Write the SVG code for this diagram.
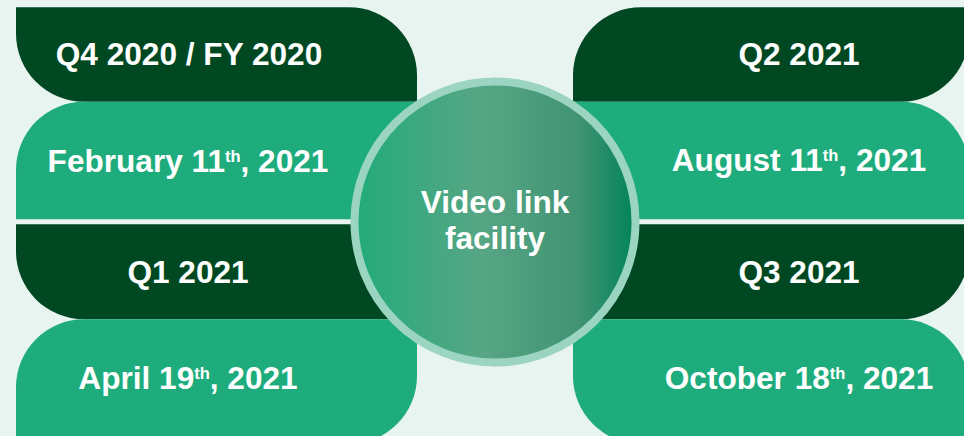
<svg xmlns="http://www.w3.org/2000/svg" width="964" height="436" viewBox="0 0 964 436">
  <defs>
    <linearGradient id="circGrad" x1="0" y1="0" x2="1" y2="0">
      <stop offset="0" stop-color="#22AB7A"/>
      <stop offset="0.45" stop-color="#57A685"/>
      <stop offset="0.8" stop-color="#409373"/>
      <stop offset="1" stop-color="#00845A"/>
    </linearGradient>
    <style>
      .dark { fill: #004822; }
      .light { fill: #1EAC7C; }
      .lbl { font-family: "Liberation Sans", Arial, Helvetica, sans-serif; font-weight: bold; font-size: 31.6px; fill: #FFFFFF; text-anchor: middle; }
      .sup { font-size: 16.5px; }
    </style>
  </defs>
  <rect x="0" y="0" width="964" height="436" fill="#E8F4F0"/>

  <g id="q4-2020">
    <path class="dark" d="M16,7.3 H349 A68,68 0 0 1 417,75.3 V101.7 H84 A68,68 0 0 1 16,33.7 Z"/>
    <text class="lbl" x="189" y="65">Q4 2020 / FY 2020</text>
  </g>
  <g id="feb-2021">
    <path class="light" d="M84,101.7 H417 V151.3 A68,68 0 0 1 349,219.3 H16 V169.7 A68,68 0 0 1 84,101.7 Z"/>
    <text class="lbl" x="188" y="172">February 11<tspan class="sup" dy="-10">th</tspan><tspan dy="10">, 2021</tspan></text>
  </g>
  <g id="q1-2021">
    <path class="dark" d="M16,224.3 H349 A68,68 0 0 1 417,292.3 V319.3 H84 A68,68 0 0 1 16,251.3 Z"/>
    <text class="lbl" x="188" y="283">Q1 2021</text>
  </g>
  <g id="apr-2021">
    <path class="light" d="M84,319.3 H417 V376 A68,68 0 0 1 349,444 H16 V387.3 A68,68 0 0 1 84,319.3 Z"/>
    <text class="lbl" x="188" y="389">April 19<tspan class="sup" dy="-10">th</tspan><tspan dy="10">, 2021</tspan></text>
  </g>

  <g id="q2-2021">
    <path class="dark" d="M641,7.3 H969 V33.7 A68,68 0 0 1 901,101.7 H573 V75.3 A68,68 0 0 1 641,7.3 Z"/>
    <text class="lbl" x="799" y="65">Q2 2021</text>
  </g>
  <g id="aug-2021">
    <path class="light" d="M573,101.7 H901 A68,68 0 0 1 969,169.7 V219.3 H641 A68,68 0 0 1 573,151.3 Z"/>
    <text class="lbl" x="799" y="171">August 11<tspan class="sup" dy="-10">th</tspan><tspan dy="10">, 2021</tspan></text>
  </g>
  <g id="q3-2021">
    <path class="dark" d="M641,224.3 H969 V251.3 A68,68 0 0 1 901,319.3 H573 V292.3 A68,68 0 0 1 641,224.3 Z"/>
    <text class="lbl" x="799" y="283">Q3 2021</text>
  </g>
  <g id="oct-2021">
    <path class="light" d="M573,319.3 H901 A68,68 0 0 1 969,387.3 V444 H641 A68,68 0 0 1 573,376 Z"/>
    <text class="lbl" x="799" y="389">October 18<tspan class="sup" dy="-10">th</tspan><tspan dy="10">, 2021</tspan></text>
  </g>

  <g id="video-link-facility">
    <circle cx="495" cy="222" r="140.5" fill="url(#circGrad)" stroke="#9BD4C0" stroke-width="8"/>
    <text class="lbl" x="495" y="213">Video link</text>
    <text class="lbl" x="495" y="249">facility</text>
  </g>

  <g id="connectors"/>
</svg>
